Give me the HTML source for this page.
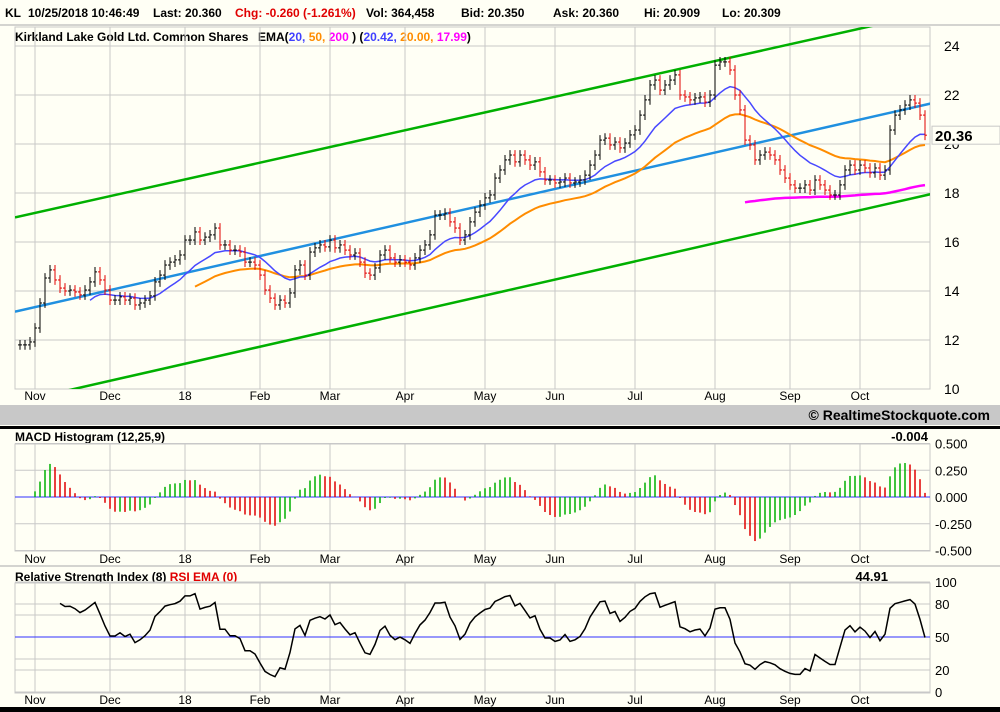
<!DOCTYPE html>
<html><head><meta charset="utf-8"><style>
body{margin:0;background:#fffff5;width:1000px;height:712px;overflow:hidden;font-family:"Liberation Sans",sans-serif}
svg{display:block}
</style></head><body>
<svg id="chart" width="1000" height="712" xmlns="http://www.w3.org/2000/svg" font-family="Liberation Sans, sans-serif">
<rect x="0" y="0" width="1000" height="712" fill="#fffff5"/>
<g font-size="12" font-weight="bold">
<text x="5" y="17">KL</text>
<text x="28" y="17">10/25/2018 10:46:49</text>
<text x="153" y="17">Last: 20.360</text>
<text x="235" y="17" fill="#e00000">Chg: -0.260 (-1.261%)</text>
<text x="366" y="17">Vol: 364,458</text>
<text x="461" y="17">Bid: 20.350</text>
<text x="553" y="17">Ask: 20.360</text>
<text x="644" y="17">Hi: 20.909</text>
<text x="722" y="17">Lo: 20.309</text>
</g>
<line x1="0" y1="25" x2="1000" y2="25" stroke="#aaa"/>
<g font-size="12" font-weight="bold">
<text x="15" y="41">Kirkland Lake Gold Ltd. Common Shares</text>
<text x="258" y="41">EMA(<tspan fill="#4040ff">20,</tspan> <tspan fill="#ff8c00">50,</tspan> <tspan fill="#ff00ff">200</tspan> )  (<tspan fill="#4040ff">20.42,</tspan> <tspan fill="#ff8c00">20.00,</tspan> <tspan fill="#ff00ff">17.99</tspan>)</text>
</g>
<g id="main"></g>
<rect x="0" y="405" width="1000" height="20" fill="#c8c8c8"/>
<text x="990" y="420" text-anchor="end" font-size="14" font-weight="bold">© RealtimeStockquote.com</text>
<rect x="0" y="426" width="1000" height="3" fill="#000"/>
<text x="15" y="441" font-size="12" font-weight="bold">MACD Histogram (12,25,9)</text>
<text x="928" y="441" text-anchor="end" font-size="13" font-weight="bold">-0.004</text>
<g id="macd"></g>
<line x1="0" y1="566" x2="1000" y2="566" stroke="#aaa"/>
<text x="15" y="581" font-size="12" font-weight="bold">Relative Strength Index (8) <tspan fill="#e00000">RSI EMA (0)</tspan></text>
<text x="888" y="581" text-anchor="end" font-size="13" font-weight="bold">44.91</text>
<g id="rsi"></g>
<rect x="0" y="707" width="1000" height="5" fill="#000"/>
</svg>
<script>
const closes=[11.80,11.80,11.92,12.49,13.51,14.53,14.86,14.45,14.12,14.00,14.04,13.96,13.84,14.04,14.37,14.78,14.45,14.04,13.63,13.63,13.76,13.63,13.71,13.43,13.51,13.63,13.80,14.37,14.65,15.06,15.18,15.27,15.47,16.08,16.08,16.41,16.08,16.20,16.29,16.57,15.88,15.88,15.67,15.67,15.59,15.18,15.18,15.06,14.65,14.04,13.71,13.43,13.63,13.51,13.92,14.86,15.06,14.65,15.59,15.76,15.88,15.80,16.08,15.76,15.88,15.67,15.47,15.55,15.18,14.73,14.65,14.94,15.47,15.67,15.35,15.18,15.27,15.18,15.06,15.35,15.67,15.88,16.29,17.10,17.10,17.18,16.82,16.57,16.08,16.29,16.82,17.22,17.51,17.80,17.92,18.61,18.94,19.35,19.55,19.27,19.55,19.35,19.14,19.27,18.86,18.53,18.53,18.41,18.45,18.61,18.41,18.45,18.53,18.73,19.14,19.55,20.16,20.24,19.96,20.08,19.84,20.04,20.37,20.57,21.18,21.80,22.41,22.61,22.20,22.41,22.61,22.82,22.00,21.92,21.80,21.88,21.92,21.71,22.00,23.22,23.35,23.35,23.02,22.00,21.39,20.16,19.96,19.35,19.55,19.67,19.55,19.35,18.94,18.61,18.33,18.20,18.20,18.33,18.12,18.53,18.33,18.12,17.92,17.92,18.33,18.94,19.14,18.94,19.14,19.02,18.82,19.02,18.73,18.94,20.57,21.18,21.39,21.59,21.80,21.67,21.18,20.36];
const monthLabels=["Nov","Dec","18","Feb","Mar","Apr","May","Jun","Jul","Aug","Sep","Oct"];
const monthBar=[3,18,33,48,62,77,93,107,123,139,154,168];
const priceTicks=[10,12,14,16,18,20,22,24];
const macdTicks=[0.5,0.25,0,-0.25,-0.5];
const macdTickLabels=["0.500","0.250","0.000","-0.250","-0.500"];
const rsiGrid=[100,80,70,50,30,20,0];
const rsiLabels=[100,80,50,20,0];
const upperChannel=[17.05,24.8];
const lowerChannel=[9.5,17.9];
const regLine=[13.2,21.6];
const lastPrice=20.36;

const NS="http://www.w3.org/2000/svg";
const X0=20,X1=925,PL=15,PR=930;
const n=closes.length;
const xAt=i=>X0+i*(X1-X0)/(n-1);
const yP=v=>46+(24-v)*24.5;
const yM=v=>497-v*107;
const yR=v=>692-v*1.1;
function mk(p,tag,at){const e=document.createElementNS(NS,tag);for(const k in at)e.setAttribute(k,at[k]);p.appendChild(e);return e;}
function txt(p,x,y,s,anchor){const t=mk(p,'text',{x:x,y:y,'font-size':13,'text-anchor':anchor||'start'});t.textContent=s;return t;}
function ema(a,p){const k=2/(p+1);const o=[];let e=a[0];for(let i=0;i<a.length;i++){e=i?a[i]*k+e*(1-k):a[i];o.push(e);}return o;}
function frame(g,top,bot,dateY){
  mk(g,'rect',{x:PL,y:top,width:PR-PL,height:bot-top,fill:'none',stroke:'#c8c8c8'});
  monthBar.forEach((b,j)=>{const x=xAt(b);
    const l=mk(g,'line',{x1:x,y1:top,x2:x,y2:bot,stroke:'#c8c8c8'});
    
    const t=txt(g,x,dateY,monthLabels[j],'middle');t.setAttribute('font-size','12');
    });
}
function path(g,pts,color,w,name){const d=pts.map((p,i)=>(i?'L':'M')+p[0].toFixed(1)+' '+p[1].toFixed(1)).join('');
  const e=mk(g,'path',{d:d,fill:'none',stroke:color,'stroke-width':w});
  return e;}

const gm=document.getElementById('main');
frame(gm,27,389,400);
priceTicks.forEach(v=>{const y=yP(v);mk(gm,'line',{x1:PL,y1:y,x2:PR,y2:y,stroke:'#c8c8c8'});
  const t=txt(gm,944,y+5,String(v));t.setAttribute('font-size','14');
  });
const clip=mk(gm,'clipPath',{id:'pc'});mk(clip,'rect',{x:PL,y:27,width:PR-PL,height:362});
const gc=mk(gm,'g',{'clip-path':'url(#pc)'});
function chan(vals,iA,iB,color,name){const slope=(vals[1]-vals[0])/(iB-iA);
  const iL=(PL-X0)/((X1-X0)/(n-1)),iR=(PR-X0)/((X1-X0)/(n-1))+40;
  path(gc,[[xAt(iL),yP(vals[0]+slope*(iL-iA))],[xAt(iR),yP(vals[0]+slope*(iR-iA))]],color,2.5,name);}
chan(upperChannel,0,170,'#00b000','upper-channel');
chan(lowerChannel,0,n-1,'#00b000','lower-channel');
chan(regLine,0,n-1,'#2090e0','regression-line');
const e20=ema(closes,15),e50=ema(closes,36),e200=ema(closes,146);
path(gc,e200.map((v,i)=>[xAt(i),yP(v)]).slice(145),'#ff00ff',2.5,'ema-200');
path(gc,e50.map((v,i)=>[xAt(i),yP(v)]).slice(35),'#ff8c00',2,'ema-50');
path(gc,e20.map((v,i)=>[xAt(i),yP(v)]).slice(14),'#4848ff',1.5,'ema-20');
for(let i=0;i<n;i++){const c=closes[i],o=i?closes[i-1]:c;
  const hi=Math.max(o,c)+0.2,lo=Math.min(o,c)-0.2,x=xAt(i);
  const col=(i&&c<o)?'#e00000':'#000';
  const g=mk(gc,'g',{stroke:col,'stroke-width':1});
  
  mk(g,'line',{x1:x,y1:yP(hi),x2:x,y2:yP(lo)});
  mk(g,'line',{x1:x-2,y1:yP(o),x2:x,y2:yP(o)});
  mk(g,'line',{x1:x,y1:yP(c),x2:x+2,y2:yP(c)});}
const ly=yP(lastPrice);
const lb=mk(gm,'rect',{x:932,y:ly-9,width:68,height:18,fill:'#fffff5',stroke:'#c8c8c8'});

const lt=txt(gm,935,ly+6,lastPrice.toFixed(2));lt.setAttribute('font-size','15');lt.setAttribute('font-weight','bold');

const gd=document.getElementById('macd');
frame(gd,444,551,563);
macdTicks.forEach((v,j)=>{const y=yM(v);mk(gd,'line',{x1:PL,y1:y,x2:PR,y2:y,stroke:v===0?'#3030ff':'#c8c8c8'});
  const t=txt(gd,935,y+5,macdTickLabels[j]);});
const f=ema(closes,9),s=ema(closes,18);const macd=f.map((v,i)=>v-s[i]);const sig=ema(macd,7);
const hist=macd.map((v,i)=>v-sig[i]);
for(let i=3;i<n;i++){const h=Math.max(-0.55,Math.min(0.55,hist[i]));const x=xAt(i);
  const col=hist[i]>=hist[i-1]?'#00b000':'#e00000';
  const b=mk(gd,'line',{x1:x,y1:yM(0),x2:x,y2:yM(h),stroke:col,'stroke-width':1.5});
  }

const gr=document.getElementById('rsi');
frame(gr,583,693,704);
rsiGrid.forEach(v=>{const y=yR(v);mk(gr,'line',{x1:PL,y1:y,x2:PR,y2:y,stroke:v===50?'#3030ff':'#c8c8c8'});});
rsiLabels.forEach(v=>{const t=txt(gr,935,yR(v)+5,String(v));});
const P=8;let ag=0,al=0;const rsi=[];
for(let i=1;i<n;i++){const d=closes[i]-closes[i-1];const g=Math.max(d,0),l=Math.max(-d,0);
  if(i<=P){ag+=g/P;al+=l/P;}else{ag=(ag*(P-1)+g)/P;al=(al*(P-1)+l)/P;}
  if(i>=P){rsi.push([xAt(i),yR(al===0?100:100-100/(1+ag/al))]);}}
path(gr,rsi,'#000',1.5,'rsi-line');
</script>
</body></html>
